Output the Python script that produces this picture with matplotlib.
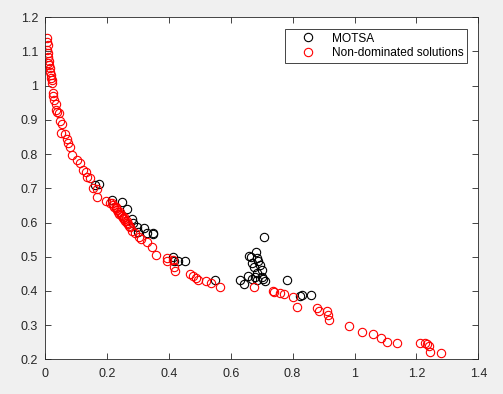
import matplotlib
matplotlib.use("Agg")
import matplotlib.pyplot as plt

plt.rcParams['font.family'] = ['Liberation Sans', 'DejaVu Sans']

# Non-dominated solutions (red)
nd_x = [0.005, 0.008, 0.009, 0.006, 0.011, 0.010, 0.012, 0.009, 0.014, 0.016, 0.015, 0.018,
        0.019, 0.022, 0.024, 0.025, 0.027, 0.030, 0.036, 0.036, 0.040, 0.044, 0.048, 0.054,
        0.052, 0.065, 0.070, 0.075, 0.081, 0.086, 0.104, 0.113, 0.122, 0.132, 0.137, 0.145,
        0.154, 0.167, 0.169, 0.197, 0.210,
        0.215, 0.220, 0.224, 0.228, 0.232, 0.236, 0.240, 0.244, 0.248, 0.252, 0.256, 0.260,
        0.264, 0.268, 0.272, 0.276, 0.230, 0.242, 0.254, 0.266,
        0.280, 0.291, 0.305, 0.309, 0.328, 0.345, 0.359, 0.393, 0.395, 0.415, 0.417, 0.420,
        0.468, 0.479, 0.488, 0.493, 0.519, 0.535, 0.565, 0.675, 0.736, 0.740, 0.759, 0.772,
        0.802, 0.813, 0.878, 0.885, 0.910, 0.913, 0.919, 0.982, 1.025, 1.059, 1.085, 1.104,
        1.136, 1.211, 1.228, 1.235, 1.242, 1.244, 1.278]
nd_y = [1.139, 1.129, 1.119, 1.104, 1.095, 1.083, 1.073, 1.065, 1.061, 1.051, 1.041, 1.031,
        1.022, 1.017, 1.009, 0.978, 0.971, 0.958, 0.947, 0.929, 0.924, 0.919, 0.897, 0.888,
        0.861, 0.859, 0.843, 0.832, 0.822, 0.796, 0.783, 0.775, 0.754, 0.749, 0.734, 0.729,
        0.700, 0.697, 0.674, 0.664, 0.658,
        0.656, 0.652, 0.646, 0.641, 0.636, 0.631, 0.626, 0.622, 0.618, 0.613, 0.609, 0.605,
        0.600, 0.596, 0.591, 0.586, 0.645, 0.630, 0.616, 0.603,
        0.575, 0.570, 0.559, 0.551, 0.542, 0.529, 0.504, 0.495, 0.488, 0.490, 0.471, 0.459,
        0.450, 0.444, 0.437, 0.432, 0.430, 0.424, 0.411, 0.411, 0.400, 0.397, 0.395, 0.391,
        0.381, 0.354, 0.349, 0.342, 0.341, 0.330, 0.315, 0.297, 0.281, 0.273, 0.261, 0.252,
        0.249, 0.247, 0.247, 0.245, 0.239, 0.222, 0.219]

# MOTSA (black)
mo_x = [0.174, 0.162, 0.218, 0.250, 0.264, 0.280, 0.285, 0.296, 0.320, 0.328, 0.350, 0.348,
        0.302, 0.412, 0.417, 0.431, 0.452, 0.549, 0.630, 0.643, 0.657, 0.660, 0.664, 0.681,
        0.709, 0.669, 0.675, 0.684, 0.689, 0.695, 0.700, 0.684, 0.678, 0.700, 0.711, 0.705,
        0.684, 0.668, 0.781, 0.824, 0.829, 0.861]
mo_y = [0.713, 0.710, 0.666, 0.661, 0.639, 0.610, 0.600, 0.588, 0.583, 0.568, 0.570, 0.566,
        0.573, 0.500, 0.488, 0.486, 0.486, 0.432, 0.432, 0.419, 0.444, 0.502, 0.500, 0.515,
        0.557, 0.481, 0.471, 0.495, 0.486, 0.476, 0.461, 0.451, 0.442, 0.442, 0.430, 0.434,
        0.432, 0.434, 0.432, 0.385, 0.388, 0.388]

x_ticks = [0, 0.2, 0.4, 0.6, 0.8, 1.0, 1.2, 1.4]
x_ticklabels = ['0', '0.2', '0.4', '0.6', '0.8', '1', '1.2', '1.4']
y_ticks = [0.2, 0.3, 0.4, 0.5, 0.6, 0.7, 0.8, 0.9, 1.0, 1.1, 1.2]
y_ticklabels = ['0.2', '0.3', '0.4', '0.5', '0.6', '0.7', '0.8', '0.9', '1', '1.1', '1.2']

fig = plt.figure(figsize=(5.03, 3.94), dpi=100, facecolor='#F0F0F0')
ax = fig.add_axes([45/503, 1 - 359.3/394, (478.3-45)/503, (359.3-17.3)/394])
ax.set_facecolor('white')

ax.plot(mo_x, mo_y, linestyle='none', marker='o', markersize=6, markerfacecolor='none',
        markeredgecolor='black', markeredgewidth=0.8, label='MOTSA')
ax.plot(nd_x, nd_y, linestyle='none', marker='o', markersize=6, markerfacecolor='none',
        markeredgecolor='#FF0000', markeredgewidth=0.8, label='Non-dominated solutions')

ax.set_xlim(0, 1.4)
ax.set_ylim(0.2, 1.2)
ax.set_xticks(x_ticks)
ax.set_xticklabels(x_ticklabels)
ax.set_yticks(y_ticks)
ax.set_yticklabels(y_ticklabels)

edge = '#262626'
for s in ax.spines.values():
    s.set_color(edge)
    s.set_linewidth(0.6)
ax.tick_params(direction='in', top=True, right=True, length=4, width=0.6,
               colors=edge, labelsize=9, labelcolor='#262626')
ax.tick_params(axis='x', pad=6)
ax.tick_params(axis='y', pad=5)

leg = ax.legend(loc='upper right', bbox_to_anchor=(467.3/503, 1 - 29/394),
                bbox_transform=fig.transFigure, fontsize=8.6, frameon=True, fancybox=False,
                edgecolor=edge, framealpha=1, borderpad=0.3, handlelength=3.2,
                handletextpad=0.45, labelspacing=0.2, borderaxespad=0)
leg.get_frame().set_linewidth(0.6)
for t in leg.get_texts():
    t.set_color('black')

fig.savefig('out.png', dpi=100, facecolor=fig.get_facecolor())
